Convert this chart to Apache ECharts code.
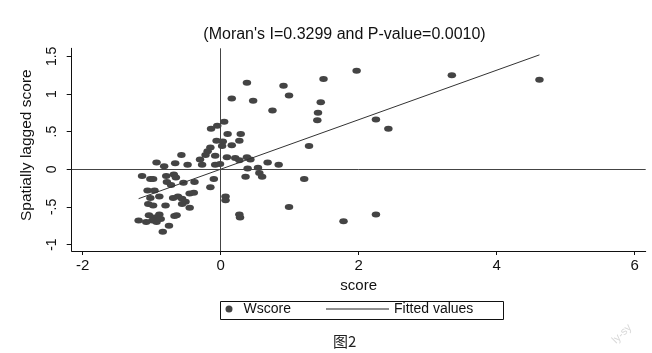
<!DOCTYPE html>
<html>
<head>
<meta charset="utf-8">
<script src="https://cdn.jsdelivr.net/npm/echarts@6/dist/echarts.min.js"></script>
<style>
html,body{margin:0;padding:0;background:#fff;}
#chart{width:652px;height:353px;}
</style>
</head>
<body>
<div id="chart"></div>
<script>
// score (x) and spatially lagged score (Wscore, y)
const scoreX = [0.38,0.91,1.49,1.97,0.99,0.16,0.47,1.45,0.75,1.41,1.40,0.05,-0.05,-0.14,0.10,0.29,0.27,0.03,-0.06,0.16,
  1.28,-0.15,-0.19,-0.22,-0.08,-0.57,-0.30,0.09,0.21,0.27,0.38,0.43,0.68,0.84,-0.93,-0.82,-0.66,-0.48,-0.27,-0.08,
  -0.01,0.39,0.54,0.56,0.60,0.36,1.21,-1.14,-1.02,-0.98,-0.79,-0.68,-0.65,-0.78,-0.72,-0.54,-0.38,-0.10,-0.15,-1.06,
  -0.96,-0.89,-1.02,-0.69,-0.62,-0.56,-0.51,-0.45,-0.39,0.07,0.07,-1.05,-0.98,-0.80,-0.56,-0.45,0.99,-1.04,-0.89,-0.96,
  -0.99,-0.93,-1.19,-1.08,-0.87,-0.64,-0.67,0.27,0.28,-0.75,-0.84,1.78,3.35,4.62,2.25,2.43,2.25,0.02];
const wscoreY = [1.15,1.11,1.20,1.31,0.98,0.94,0.91,0.89,0.78,0.75,0.65,0.63,0.58,0.54,0.47,0.47,0.38,0.37,0.38,0.32,
  0.31,0.29,0.24,0.19,0.18,0.19,0.13,0.16,0.15,0.12,0.16,0.13,0.09,0.06,0.09,0.04,0.08,0.06,0.06,0.06,
  0.07,0.01,0.02,-0.05,-0.10,-0.10,-0.13,-0.09,-0.13,-0.13,-0.09,-0.07,-0.11,-0.17,-0.21,-0.18,-0.17,-0.13,-0.24,-0.28,
  -0.28,-0.36,-0.38,-0.38,-0.36,-0.39,-0.43,-0.32,-0.31,-0.36,-0.41,-0.46,-0.48,-0.48,-0.46,-0.51,-0.50,-0.61,-0.60,-0.64,
  -0.68,-0.70,-0.68,-0.70,-0.66,-0.61,-0.62,-0.60,-0.64,-0.75,-0.83,-0.69,1.25,1.19,0.66,0.54,-0.60,0.31];
// fitted values (endpoints of the regression line)
const fitX = [-1.19, 4.62];
const fitY = [-0.39, 1.52];
// tick labels
const xTicks = [-2, 0, 2, 4, 6];
const yTicks = [-1, -0.5, 0, 0.5, 1, 1.5];
const yTickLabels = {'-1':'-1','-0.5':'-.5','0':'0','0.5':'.5','1':'1','1.5':'1.5'};

const FONT = '"Liberation Sans", Arial, sans-serif';
const chart = echarts.init(document.getElementById('chart'));
chart.setOption({
  animation: false,
  backgroundColor: '#fff',
  textStyle: {fontFamily: FONT},
  title: {
    text: "(Moran's I=0.3299 and P-value=0.0010)",
    left: 339.5, top: 22, textAlign: 'center',
    textStyle: {fontFamily: FONT, fontSize: 16, fontWeight: 'normal', color: '#111'}
  },
  grid: {left: 71.7, top: 48.3, right: 6.3, bottom: 102},
  xAxis: {
    type: 'value', min: -2.16, max: 6.16,
    name: 'score', nameLocation: 'middle', nameGap: 23,
    nameTextStyle: {fontFamily: FONT, fontSize: 15, color: '#111'},
    axisLine: {show: true, onZero: false, lineStyle: {color: '#111', width: 1}},
    axisTick: {show: true, length: 4, customValues: xTicks, lineStyle: {color: '#111'}},
    axisLabel: {customValues: xTicks, margin: 7, fontSize: 15, color: '#111', fontFamily: FONT},
    splitLine: {show: false}
  },
  yAxis: {
    type: 'value', min: -1.085, max: 1.607,
    name: 'Spatially lagged score', nameLocation: 'middle', nameGap: 37,
    nameTextStyle: {fontFamily: FONT, fontSize: 15.5, color: '#111', padding: [0, 0, 0, 9]},
    axisLine: {show: true, onZero: false, lineStyle: {color: '#111', width: 1}},
    axisTick: {show: true, length: 5, customValues: yTicks, lineStyle: {color: '#111'}},
    axisLabel: {customValues: yTicks, rotate: 90, margin: 13, fontSize: 14, color: '#111', fontFamily: FONT,
      formatter: v => yTickLabels[String(Math.round(v * 10) / 10)] ?? String(v)},
    splitLine: {show: false}
  },
  legend: [
    {
      data: [{name: 'Wscore', icon: 'circle', itemStyle: {color: '#444', opacity: 1}}],
      left: 225.5, top: 300, itemWidth: 7, itemHeight: 7, itemGap: 0, padding: [2, 0, 2, 0],
      textStyle: {fontFamily: FONT, fontSize: 14, color: '#111', padding: [0, 0, 0, 6]}
    },
    {
      data: [{name: 'Fitted values', icon: 'rect', itemStyle: {color: '#222'}}],
      left: 326, top: 300, itemWidth: 63, itemHeight: 1, padding: [2, 0, 2, 0],
      textStyle: {fontFamily: FONT, fontSize: 14, color: '#111', padding: [0, 0, 0, 0]}
    }
  ],
  graphic: [
    {type: 'rect', left: 218, top: 299, shape: {width: 283, height: 18}, silent: true,
      style: {fill: 'none', stroke: '#111', lineWidth: 1}},
    {type: 'text', left: 333, top: 334, silent: true,
      style: {text: '图2', fontFamily: '"Noto Sans CJK SC", sans-serif', fontSize: 15, fill: '#222'}},
    {type: 'text', x: 610, y: 338, rotation: Math.PI / 4, silent: true,
      style: {text: 'ly-sy', fontFamily: FONT, fontSize: 11, fill: '#d8d8d8'}}
  ],
  series: [
    {
      name: 'Wscore', type: 'scatter',
      data: scoreX.map((x, i) => [x, wscoreY[i]]),
      symbol: 'circle', symbolSize: [8.5, 6],
      itemStyle: {color: '#444', opacity: 1},
      markLine: {
        silent: true, symbol: 'none', label: {show: false},
        lineStyle: {color: '#444', width: 1, type: 'solid'},
        data: [{xAxis: 0}, {yAxis: 0}]
      },
      z: 3
    },
    {
      name: 'Fitted values', type: 'line',
      data: fitX.map((x, i) => [x, fitY[i]]),
      symbol: 'none', showSymbol: false,
      lineStyle: {color: '#333', width: 1},
      itemStyle: {color: '#333'},
      z: 4
    }
  ]
});
</script>
</body>
</html>
